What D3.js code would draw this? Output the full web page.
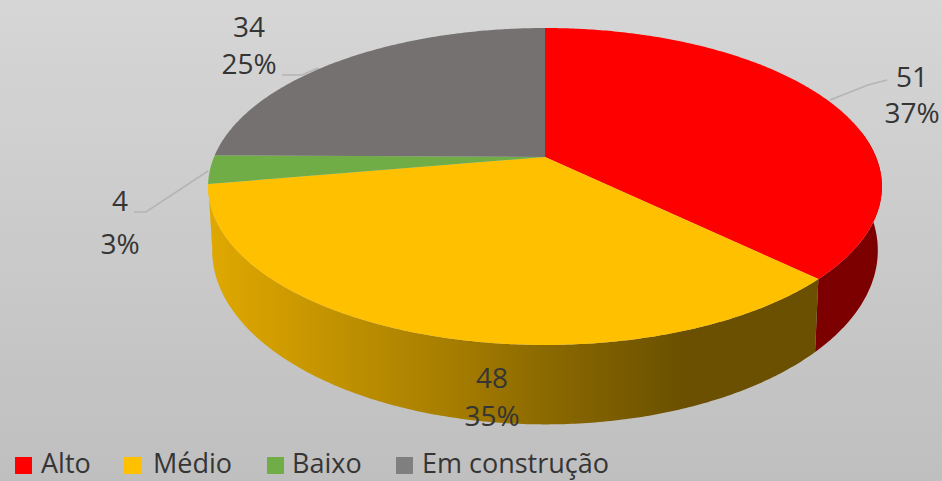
<!DOCTYPE html>
<html>
<head>
<meta charset="utf-8">
<script src="https://cdn.jsdelivr.net/npm/d3@7"></script>
<style>
  html, body { margin: 0; padding: 0; background: #c8c8c8; }
  text { font-family: "Open Sans", Lato, sans-serif; fill: #353535; }
</style>
</head>
<body>
<svg id="chart" width="942" height="481"></svg>
<script>
const categories = ["Alto", "Médio", "Baixo", "Em construção"];
const values = [51, 48, 4, 34];
const percentLabels = ["37%", "35%", "3%", "25%"];
const topColors = ["#ff0000", "#ffc000", "#70ad47", "#767171"];

const width = 942, height = 481;
const svg = d3.select("#chart");

// Perspective disc: unit-circle coordinates are projected on to the page.
const persp = 0.186;
const topRim = { x0: 545, y0: 157, a: 331, b: 153 };
const baseRim = { x0: 545, y0: 218, a: 327, b: 168 };
const project = (rim, angle) => {
  const u = Math.sin(angle), v = -Math.cos(angle), w = 1 - persp * v;
  return [rim.x0 + rim.a * u / w, rim.y0 + rim.b * v / w];
};

const pie = d3.pie().sort(null).value(d => d);
const slices = pie(values);
const color = d3.scaleOrdinal(categories, topColors);
const line = d3.line();

const arcPoints = (rim, a0, a1) => {
  const n = Math.max(2, Math.ceil(Math.abs(a1 - a0) / 0.01));
  return d3.range(n + 1).map(i => project(rim, a0 + (a1 - a0) * i / n));
};

const defs = svg.append("defs");

const bg = defs.append("linearGradient").attr("id", "bg")
  .attr("x1", 0).attr("y1", 0).attr("x2", 0).attr("y2", 1);
bg.append("stop").attr("offset", 0).attr("stop-color", "#d6d6d6");
bg.append("stop").attr("offset", 1).attr("stop-color", "#bfbfbf");

// Side wall shading of the yellow slice, darkening towards the right.
const wallYellow = defs.append("linearGradient").attr("id", "wallYellow")
  .attr("gradientUnits", "userSpaceOnUse")
  .attr("x1", 208).attr("y1", 0).attr("x2", 818).attr("y2", 0);
[[0, "#e0a800"], [0.12, "#cf9c00"], [0.25, "#bb8d00"], [0.4, "#a67d00"], [0.55, "#8c6a00"], [0.78, "#6a5000"], [1, "#6a5000"]]
  .forEach(([o, c]) => wallYellow.append("stop").attr("offset", o).attr("stop-color", c));

svg.append("rect").attr("width", width).attr("height", height).attr("fill", "url(#bg)");

// Visible side walls, front half of the disc only.
const wallStart = 1.40, wallEnd = 4.55;
const walls = slices.map((s, i) => {
  const a0 = Math.max(s.startAngle, wallStart), a1 = Math.min(s.endAngle, wallEnd);
  return a1 > a0 ? { i, a0, a1 } : null;
}).filter(Boolean);

svg.append("g").selectAll("path").data(walls).join("path")
  .attr("d", d => line(arcPoints(topRim, d.a0, d.a1).concat(arcPoints(baseRim, d.a1, d.a0))) + "Z")
  .attr("fill", d => d.i === 0 ? "#7c0000" : "url(#wallYellow)");

// Top face of each slice.
svg.append("g").selectAll("path").data(slices).join("path")
  .attr("d", s => line([[topRim.x0, topRim.y0]].concat(arcPoints(topRim, s.startAngle, s.endAngle))) + "Z")
  .attr("fill", (s, i) => color(categories[i]));

// Leader lines.
const leaders = [
  [[830, 100], [868, 85], [887, 80]],
  [[208, 171], [146, 212], [134, 212]],
  [[282, 75], [302, 75], [318, 68]]
];
svg.append("g").selectAll("path").data(leaders).join("path")
  .attr("d", d => line(d)).attr("fill", "none")
  .attr("stroke", "#b4b4b4").attr("stroke-width", 1.5);

// Value and percentage labels.
const labelAnchors = [[912, 77], [492, 378], [120, 201], [249, 27]];
const labelGaps = [36, 38, 43, 37];
const labels = svg.append("g").selectAll("g").data(values).join("g")
  .attr("transform", (d, i) => `translate(${labelAnchors[i]})`)
  .attr("text-anchor", "middle").style("font-size", "28px");
labels.append("text").attr("dy", "0.36em").text(d => d);
labels.append("text").attr("y", (d, i) => labelGaps[i]).attr("dy", "0.36em").text((d, i) => percentLabels[i]);

// Legend along the bottom edge.
const legendX = [15, 124, 267, 396];
const legendGap = [26, 29, 25, 26];
const legend = svg.append("g").selectAll("g").data(categories).join("g")
  .attr("transform", (d, i) => `translate(${legendX[i]},463)`);
legend.append("rect").attr("y", -6).attr("width", 17).attr("height", 17)
  .attr("fill", (d, i) => i === 3 ? "#7f7f7f" : color(d));
legend.append("text").attr("x", (d, i) => legendGap[i]).attr("dy", "0.36em").style("font-size", "27px").text(d => d);
</script>
</body>
</html>
